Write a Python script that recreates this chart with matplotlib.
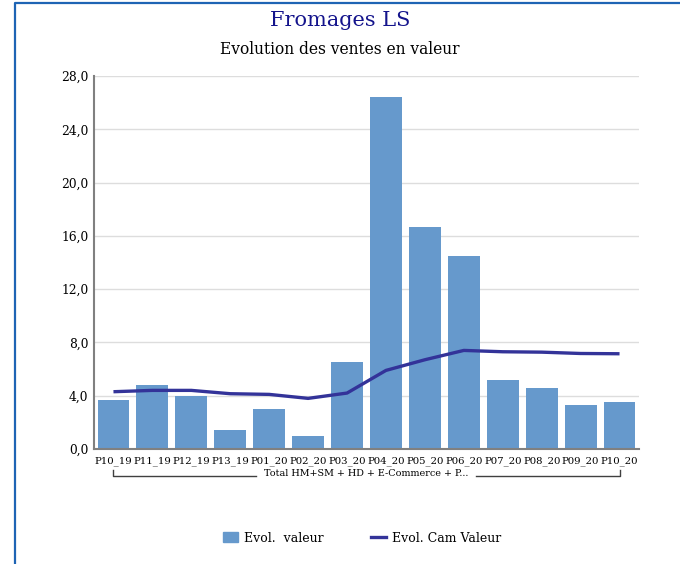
import numpy as np
import matplotlib.pyplot as plt
from matplotlib.lines import Line2D
from matplotlib.patches import Patch

periodes = ['P10_19', 'P11_19', 'P12_19', 'P13_19', 'P01_20', 'P02_20', 'P03_20',
            'P04_20', 'P05_20', 'P06_20', 'P07_20', 'P08_20', 'P09_20', 'P10_20']
evol_valeur = [3.7, 4.8, 4.0, 1.4, 3.0, 1.0, 6.5, 26.4, 16.7, 14.5, 5.2, 4.6, 3.3, 3.5]
evol_cam = [4.3, 4.4, 4.4, 4.15, 4.1, 3.8, 4.2, 5.9, 6.7, 7.4, 7.3, 7.27, 7.17, 7.15]
yticks = [0, 4, 8, 12, 16, 20, 24, 28]
groupe = 'Total HM+SM + HD + E-Commerce + P...'

bar_col = '#6699cc'
line_col = '#333399'
plt.rcParams['font.family'] = ['DejaVu Serif']

fig = plt.figure(figsize=(6.8, 5.64), dpi=100)
ax = fig.add_axes([94/680, 1-449/564, (639-94)/680, (449-76)/564])

x = np.arange(len(periodes))
ax.bar(x, evol_valeur, width=0.82, color=bar_col, zorder=2)
ax.plot(x, evol_cam, color=line_col, lw=2.4, zorder=3, solid_capstyle='butt')

ax.set_xlim(-0.5, len(periodes)-0.5)
ax.set_ylim(0, 28)
ax.set_yticks(yticks)
ax.set_yticklabels([('%.1f' % v).replace('.', ',') for v in yticks], fontsize=8.8)
ax.set_xticks(x)
ax.set_xticklabels(periodes, fontsize=7.3)
ax.tick_params(length=0, pad=4)
ax.tick_params(axis='x', pad=5)
ax.grid(axis='y', color='#dddddd', lw=1, zorder=0)
for s in ['top', 'right']:
    ax.spines[s].set_visible(False)
for s in ['left', 'bottom']:
    ax.spines[s].set_color('#808080')
    ax.spines[s].set_linewidth(1.5)

# group bracket under the tick labels
yb = 1-476/564
ytop = 1-470/564
fig.add_artist(Line2D([113/680, 113/680, 256/680], [ytop, yb, yb], color='#404040', lw=1))
fig.add_artist(Line2D([476/680, 620/680, 620/680], [yb, yb, ytop], color='#404040', lw=1))
fig.text(366/680, 1-474/564, groupe, ha='center', va='center', fontsize=6.9)

fig.text(0.5, 1-20/564, 'Fromages LS', ha='center', va='center', fontsize=15, color='#14148c')
fig.text(0.5, 1-50/564, 'Evolution des ventes en valeur', ha='center', va='center', fontsize=11.2)

# frame
fig.add_artist(Line2D([15/680, 15/680, 1], [0, 1-3/564, 1-3/564], color='#1e64b4', lw=1.6))

handles = [Patch(color=bar_col), Line2D([0], [0], color=line_col, lw=2.4)]
fig.legend(handles, ['Evol.  valeur', 'Evol. Cam Valeur'], loc='center', ncol=2,
           bbox_to_anchor=(362/680, 1-538/564), frameon=False, fontsize=9,
           handlelength=1.2, handleheight=0.9, columnspacing=3.8, handletextpad=0.5)

fig.savefig('out.png', dpi=100)
